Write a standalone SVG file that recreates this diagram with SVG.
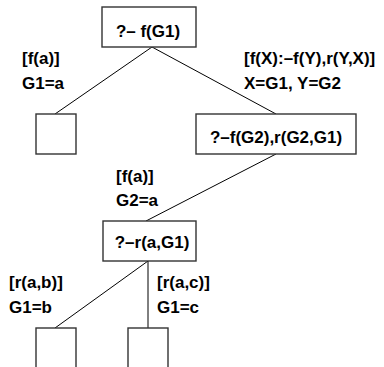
<svg xmlns="http://www.w3.org/2000/svg" width="384" height="367" viewBox="0 0 384 367">
<style>
.box{fill:#fff;stroke:#333;stroke-width:1.4}
.edge{stroke:#000;stroke-width:1;fill:none}
text{font-family:"Liberation Sans",Arial,sans-serif;font-weight:bold;font-size:17px;fill:#000}
.c{text-anchor:middle}
</style>
<rect width="384" height="367" fill="#fff"/>
<g id="connectors">
<line class="edge" x1="152" y1="47" x2="55" y2="114"/>
<line class="edge" x1="152" y1="47" x2="276" y2="114"/>
<line class="edge" x1="276" y1="154" x2="146" y2="221"/>
<line class="edge" x1="148" y1="261" x2="55" y2="328"/>
<line class="edge" x1="148" y1="261" x2="148" y2="328"/>
</g>
<g id="n_root">
<rect class="box" x="102" y="7" width="94" height="40"/>
<text class="c" x="148" y="37">?– f(G1)</text>
</g>
<g id="n_leaf1">
<rect class="box" x="36" y="114" width="40" height="40"/>
</g>
<g id="n_goal2">
<rect class="box" x="196" y="114" width="160" height="40"/>
<text class="c" x="276" y="143">?–f(G2),r(G2,G1)</text>
</g>
<g id="n_goal3">
<rect class="box" x="103" y="221" width="93" height="40"/>
<text class="c" x="152" y="248">?–r(a,G1)</text>
</g>
<g id="n_leaf2">
<rect class="box" x="36" y="328" width="40" height="42"/>
</g>
<g id="n_leaf3">
<rect class="box" x="128" y="328" width="40" height="42"/>
</g>
<g id="labels">
<text x="22" y="64">[f(a)]</text>
<text x="22" y="89">G1=a</text>
<text x="244" y="64">[f(X):–f(Y),r(Y,X)]</text>
<text x="244" y="89">X=G1, Y=G2</text>
<text x="116" y="182">[f(a)]</text>
<text x="116" y="206">G2=a</text>
<text x="9" y="288">[r(a,b)]</text>
<text x="9" y="313">G1=b</text>
<text x="157" y="288">[r(a,c)]</text>
<text x="157" y="313">G1=c</text>
</g>
</svg>
